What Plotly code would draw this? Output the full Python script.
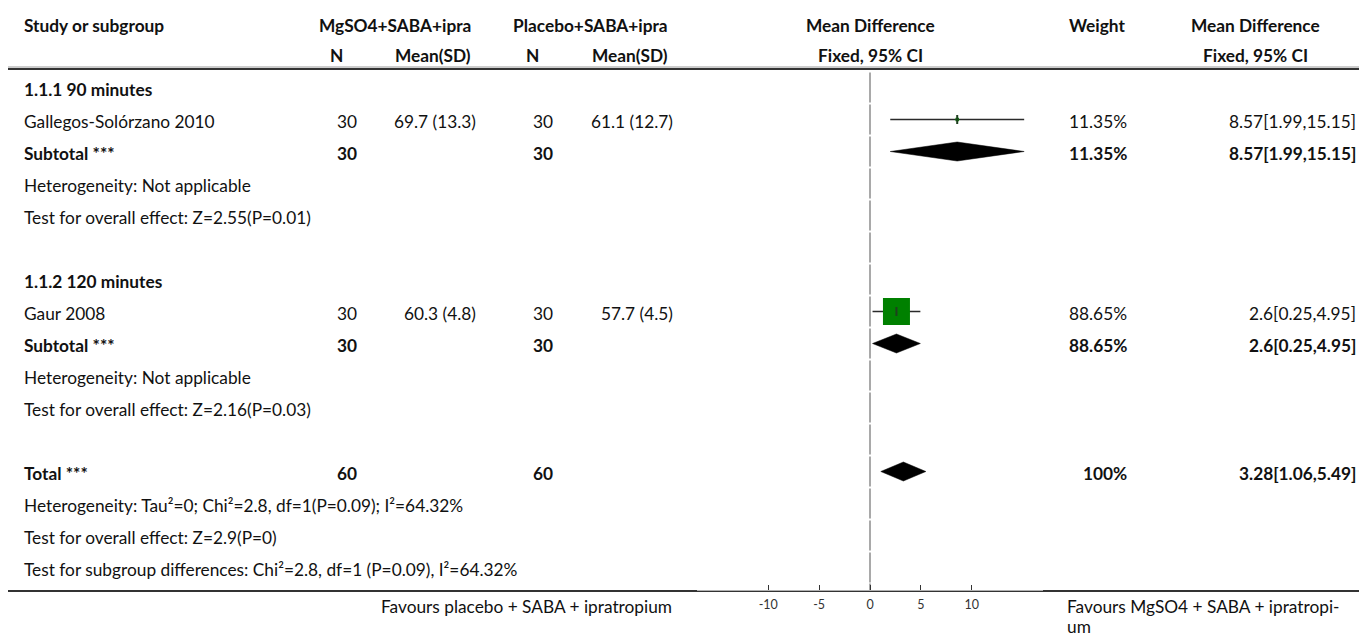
import plotly.graph_objects as go

W, H = 1359, 636
FONT = "Lato"
FS = 17.3

# ---------------- data ----------------
row_labels = [
    "1.1.1 90 minutes",
    "Gallegos-Solórzano 2010",
    "Subtotal ***",
    "Heterogeneity: Not applicable",
    "Test for overall effect: Z=2.55(P=0.01)",
    "",
    "1.1.2 120 minutes",
    "Gaur 2008",
    "Subtotal ***",
    "Heterogeneity: Not applicable",
    "Test for overall effect: Z=2.16(P=0.03)",
    "",
    "Total ***",
    "Heterogeneity: Tau²=0; Chi²=2.8, df=1(P=0.09); I²=64.32%",
    "Test for overall effect: Z=2.9(P=0)",
    "Test for subgroup differences: Chi²=2.8, df=1 (P=0.09), I²=64.32%",
]
row_bold = [1, 0, 1, 0, 0, 0, 1, 0, 1, 0, 0, 0, 1, 0, 0, 0]

study_rows = [1, 7]
study_n_mg = [30, 30]
study_mean_mg = ["69.7 (13.3)", "60.3 (4.8)"]
study_n_pl = [30, 30]
study_mean_pl = ["61.1 (12.7)", "57.7 (4.5)"]
study_md = [8.57, 2.6]
study_lo = [1.99, 0.25]
study_hi = [15.15, 4.95]
study_weight = [11.35, 88.65]

pooled_rows = [2, 8, 12]
pooled_n_mg = [30, 30, 60]
pooled_n_pl = [30, 30, 60]
pooled_md = [8.57, 2.6, 3.28]
pooled_lo = [1.99, 0.25, 1.06]
pooled_hi = [15.15, 4.95, 5.49]
pooled_weight = [11.35, 88.65, 100]

axis_ticks = [-10, -5, 0, 5, 10]
axis_range = [-17, 17]
fav_left = "Favours placebo + SABA + ipratropium"
fav_right = ["Favours MgSO4 + SABA + ipratropi-", "um"]

# ---------------- layout helpers ----------------
ROW0, ROWH = 87.5, 32
TEXT_DY = 2
def row_y(i):
    return ROW0 + ROWH * i

AXIS_Y = 590
def px(x):
    return x / W
def py(y):
    return 1 - y / H

TXT = "#111111"
annotations = []
def txt(x, y, s, anchor="left", bold=False, size=FS, color=TXT):
    annotations.append(dict(
        x=px(x), y=py(y), xref="paper", yref="paper", text=(f"<b>{s}</b>" if bold else s),
        showarrow=False, xanchor=anchor, yanchor="middle",
        font=dict(family=FONT, size=size, color=color),
    ))

# column anchors
X_STUDY = 22
X_N1 = 346.5
X_M1 = 478
X_N2 = 543
X_M2 = 675
X_FOREST = 870
X_W = 1129
X_CI = 1358
X_CIHEAD = 1255

# headers
HY1, HY2 = 26, 56
txt(X_STUDY, HY1, "Study or subgroup", bold=True)
txt(473, HY1, "MgSO4+SABA+ipra", "right", True)
txt(670, HY1, "Placebo+SABA+ipra", "right", True)
txt(X_FOREST, HY1, "Mean Difference", "center", True)
txt(X_W - 2, HY1, "Weight", "right", True)
txt(X_CIHEAD, HY1, "Mean Difference", "center", True)
txt(336, HY2, "N", "center", True)
txt(473, HY2, "Mean(SD)", "right", True)
txt(532, HY2, "N", "center", True)
txt(670, HY2, "Mean(SD)", "right", True)
txt(X_FOREST, HY2, "Fixed, 95% CI", "center", True)
txt(X_CIHEAD, HY2, "Fixed, 95% CI", "center", True)

# row labels
for i, (lab, b) in enumerate(zip(row_labels, row_bold)):
    if lab:
        txt(X_STUDY, row_y(i) + TEXT_DY, lab, bold=bool(b))

# study rows
for r, n1, m1, n2, m2, md, lo, hi, w in zip(study_rows, study_n_mg, study_mean_mg, study_n_pl,
                                             study_mean_pl, study_md, study_lo, study_hi, study_weight):
    y = row_y(r) + TEXT_DY
    txt(X_N1, y, str(n1), "center")
    txt(X_M1, y, m1, "right")
    txt(X_N2, y, str(n2), "center")
    txt(X_M2, y, m2, "right")
    txt(X_W, y, f"{w:g}%", "right")
    txt(X_CI, y, f"{md}[{lo},{hi}]", "right")

# pooled rows
for r, n1, n2, md, lo, hi, w in zip(pooled_rows, pooled_n_mg, pooled_n_pl, pooled_md,
                                     pooled_lo, pooled_hi, pooled_weight):
    y = row_y(r) + TEXT_DY
    txt(X_N1, y, str(n1), "center", True)
    txt(X_N2, y, str(n2), "center", True)
    txt(X_W, y, f"{w:g}%", "right", True)
    txt(X_CI, y, f"{md}[{lo},{hi}]", "right", True)

# favours labels
txt(674, 606, fav_left, "right")
txt(1065, 606, fav_right[0], "left")
txt(1065, 626, fav_right[1], "left")

fig = go.Figure()

# zero line segments per row (with small gaps)
zx, zy = [], []
for i in range(len(row_labels)):
    top = row_y(i) - 16 + 1
    bot = min(row_y(i) + 16 - 1, AXIS_Y)
    zx += [0, 0, None]
    zy += [top, bot, None]
zx += [0, 0]
zy += [row_y(len(row_labels) - 1) + 16, AXIS_Y]
fig.add_trace(go.Scatter(x=zx, y=zy, mode="lines", line=dict(color="#8c8c8c", width=1.5),
                         hoverinfo="skip", showlegend=False))

# study CIs
for r, md, lo, hi, w in zip(study_rows, study_md, study_lo, study_hi, study_weight):
    y = row_y(r)
    fig.add_trace(go.Scatter(x=[lo, hi], y=[y, y], mode="lines",
                             line=dict(color="#2a2a2a", width=1.5), hoverinfo="skip", showlegend=False))
    fig.add_trace(go.Scatter(x=[md], y=[y], mode="markers",
                             marker=dict(symbol="square", size=27 * w / 88.65, color="#008000",
                                         line=dict(width=0)),
                             hoverinfo="skip", showlegend=False))
    fig.add_trace(go.Scatter(x=[md, md], y=[y - 4.5, y + 4.5], mode="lines",
                             line=dict(color="#1f3f1f", width=2), hoverinfo="skip", showlegend=False))

# pooled diamonds
DH = 9.5
for r, md, lo, hi in zip(pooled_rows, pooled_md, pooled_lo, pooled_hi):
    y = row_y(r)
    fig.add_trace(go.Scatter(x=[lo, md, hi, md, lo], y=[y, y - DH, y, y + DH, y],
                             mode="lines", fill="toself", fillcolor="#000000",
                             line=dict(color="#000000", width=0.5),
                             hoverinfo="skip", showlegend=False))

shapes = [
    # header double rule
    dict(type="line", xref="paper", yref="paper", x0=px(8), x1=1, y0=py(67), y1=py(67),
         line=dict(color="#9a9a9a", width=1)),
    dict(type="line", xref="paper", yref="paper", x0=px(8), x1=1, y0=py(69), y1=py(69),
         line=dict(color="#333333", width=2)),
    # bottom rule
    dict(type="line", xref="paper", yref="paper", x0=px(8), x1=1, y0=py(AXIS_Y + 1), y1=py(AXIS_Y + 1),
         line=dict(color="#333333", width=2), layer="below"),
]

fig.update_layout(
    width=W, height=H,
    margin=dict(l=0, r=0, t=0, b=0),
    paper_bgcolor="white", plot_bgcolor="white",
    showlegend=False,
    annotations=annotations,
    shapes=shapes,
    xaxis=dict(domain=[px(697), px(1043)], range=axis_range, tickvals=axis_ticks,
               ticktext=[str(t) for t in axis_ticks], ticks="inside", ticklen=5,
               tickcolor="#333333", tickwidth=1, showline=True, linecolor="#b0b0b0",
               linewidth=1, showgrid=False, zeroline=False, ticklabelstandoff=3,
               tickfont=dict(family=FONT, size=12.5, color="#333333"), fixedrange=True),
    yaxis=dict(domain=[(H - AXIS_Y) / H, 1], range=[AXIS_Y, 0], visible=False,
               showgrid=False, zeroline=False, fixedrange=True),
)

fig.write_html("out.html")
